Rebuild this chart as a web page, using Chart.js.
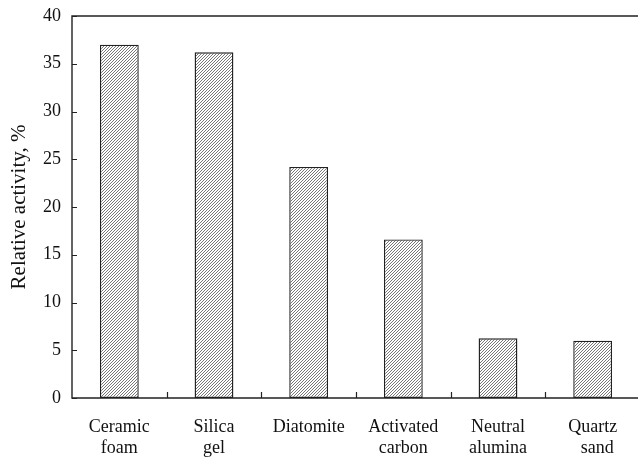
<!DOCTYPE html>
<html>
<head>
<meta charset="utf-8">
<script src="https://cdn.jsdelivr.net/npm/chart.js@4/dist/chart.umd.min.js"></script>
<style>
  html, body { margin: 0; padding: 0; background: #fff; overflow: hidden; }
  #wrap { width: 638px; height: 458px; overflow: hidden; }
  canvas { display: block; }
</style>
</head>
<body>
<div id="wrap"><canvas id="c" width="642" height="458"></canvas></div>
<script>
// Support materials and their relative activity (%)
const categories = [
  ['Ceramic', 'foam'],
  ['Silica', 'gel'],
  ['Diatomite'],
  ['Activated', 'carbon'],
  ['Neutral', 'alumina'],
  ['Quartz', '  sand']
];
const relativeActivity = [37.0, 36.2, 24.2, 16.6, 6.25, 6.0];
const yTicks = [0, 5, 10, 15, 20, 25, 30, 35, 40];

const FONT = 'Liberation Serif, "Times New Roman", serif';
const INK = '#222';

// Fine diagonal "/" hatch fill
function makeHatch() {
  const s = 3;
  const t = document.createElement('canvas');
  t.width = s; t.height = s;
  const g = t.getContext('2d');
  g.fillStyle = '#fff';
  g.fillRect(0, 0, s, s);
  g.strokeStyle = '#4a4a4a';
  g.lineWidth = 0.75;
  g.beginPath();
  g.moveTo(-1, 1); g.lineTo(1, -1);
  g.moveTo(0, s); g.lineTo(s, 0);
  g.moveTo(s - 1, s + 1); g.lineTo(s + 1, s - 1);
  g.stroke();
  return g.createPattern(t, 'repeat');
}

const ctx = document.getElementById('c').getContext('2d');

// Frame plus inward tick marks on both axes
const framePlugin = {
  id: 'frame',
  afterDatasetsDraw(chart) {
    const { ctx, chartArea: a, scales: { x, y } } = chart;
    ctx.save();
    ctx.strokeStyle = INK;
    ctx.lineWidth = 1.4;
    ctx.beginPath();
    ctx.moveTo(a.left, a.top); ctx.lineTo(a.right, a.top);
    ctx.lineTo(a.right, a.bottom); ctx.lineTo(a.left, a.bottom);
    ctx.closePath();
    ctx.stroke();
    ctx.lineWidth = 1.2;
    ctx.beginPath();
    yTicks.forEach(v => {
      const py = Math.round(y.getPixelForValue(v)) + 0.5;
      ctx.moveTo(a.left, py); ctx.lineTo(a.left + 5, py);
    });
    for (let i = 1; i < categories.length; i++) {
      const px = Math.round((x.getPixelForTick(i - 1) + x.getPixelForTick(i)) / 2) + 0.5;
      ctx.moveTo(px, a.bottom); ctx.lineTo(px, a.bottom - 6);
    }
    ctx.stroke();
    ctx.restore();
  }
};

new Chart(ctx, {
  type: 'bar',
  data: {
    labels: categories,
    datasets: [{
      data: relativeActivity,
      backgroundColor: makeHatch(),
      borderColor: INK,
      borderWidth: 1.4,
      borderSkipped: false,
      categoryPercentage: 1,
      barPercentage: 0.41
    }]
  },
  options: {
    responsive: false,
    animation: false,
    layout: { padding: { top: 16, right: 2, left: 0, bottom: 0 } },
    plugins: { legend: { display: false }, tooltip: { enabled: false } },
    scales: {
      x: {
        grid: { display: false, drawTicks: false },
        border: { display: false },
        ticks: {
          color: '#111',
          font: { family: FONT, size: 18, lineHeight: 1.17 },
          padding: 19,
          maxRotation: 0,
          autoSkip: false
        },
        afterFit(s) { s.height = 60; s.paddingLeft = 0; s.paddingRight = 0; }
      },
      y: {
        min: 0, max: 40,
        grid: { display: false, drawTicks: false },
        border: { display: false },
        afterBuildTicks(s) { s.ticks = yTicks.map(v => ({ value: v })); },
        ticks: {
          color: '#111',
          font: { family: FONT, size: 18 },
          padding: 11
        },
        title: {
          display: true,
          text: 'Relative activity, %',
          color: '#111',
          font: { family: FONT, size: 21 },
          padding: { top: 7, bottom: 0 }
        },
        afterFit(s) { s.width = 72; s.paddingTop = 0; s.paddingBottom = 0; }
      }
    }
  },
  plugins: [framePlugin]
});
</script>
</body>
</html>
